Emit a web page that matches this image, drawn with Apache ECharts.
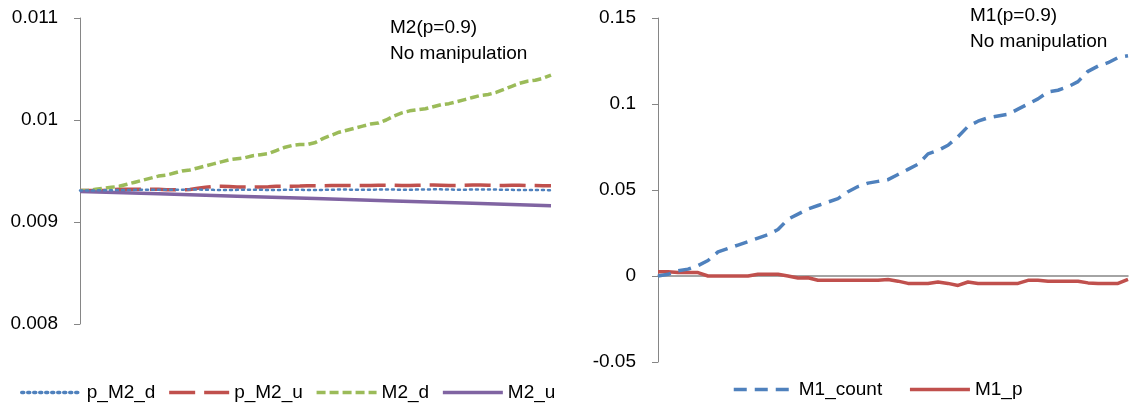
<!DOCTYPE html>
<html>
<head>
<meta charset="utf-8">
<script src="https://cdn.jsdelivr.net/npm/echarts@6/dist/echarts.min.js"></script>
<style>
  html, body { margin: 0; padding: 0; background: #fff; }
  #main { width: 1132px; height: 409px; }
</style>
</head>
<body>
<div id="main"></div>
<script>
// left panel: M2 (p=0.9), 61 steps
const m2Steps = Array.from({ length: 61 }, (_, i) => i)
const pM2d = [
  0.00931, 0.00931, 0.00931, 0.009312, 0.009312, 0.009314, 0.009314, 0.009315, 0.009315, 0.009316,
  0.009316, 0.009316, 0.009317, 0.009317, 0.009318, 0.009318, 0.009316, 0.009315, 0.009314, 0.009314,
  0.009315, 0.009316, 0.009317, 0.009316, 0.009314, 0.009313, 0.009315, 0.009316, 0.009316, 0.009314,
  0.009314, 0.009315, 0.009316, 0.009318, 0.009318, 0.009316, 0.009315, 0.009316, 0.009318, 0.009319,
  0.009318, 0.009316, 0.009316, 0.009318, 0.009319, 0.00932, 0.00932, 0.009318, 0.009317, 0.009317,
  0.009318, 0.009319, 0.009319, 0.009318, 0.009316, 0.009315, 0.009314, 0.009314, 0.009313, 0.009313,
  0.009312
]
const pM2u = [
  0.00931, 0.00931, 0.00931, 0.00931, 0.009318, 0.00932, 0.00932, 0.00932, 0.009322, 0.00932,
  0.00932, 0.009316, 0.009315, 0.009315, 0.009318, 0.00933, 0.00934, 0.00935, 0.00935, 0.009348,
  0.009344, 0.009342, 0.009342, 0.009343, 0.009346, 0.00935, 0.00935, 0.00935, 0.009352, 0.009355,
  0.009356, 0.009356, 0.009357, 0.009358, 0.009358, 0.009357, 0.009357, 0.009358, 0.00936, 0.00936,
  0.00936, 0.009358, 0.009358, 0.00936, 0.009362, 0.009362, 0.00936, 0.009358, 0.009358, 0.00936,
  0.009362, 0.009362, 0.00936, 0.009358, 0.009358, 0.00936, 0.00936, 0.009358, 0.009357, 0.009356,
  0.009355
]
const m2d = [
  0.00931, 0.00931, 0.00932, 0.00933, 0.00934, 0.00935, 0.00937, 0.00939, 0.00941, 0.00943,
  0.00945, 0.00946, 0.00948, 0.0095, 0.00951, 0.00953, 0.00955, 0.00957, 0.00959, 0.00961,
  0.00962, 0.00963, 0.00965, 0.00966, 0.00967, 0.0097, 0.00973, 0.00975, 0.00976, 0.00976,
  0.00978, 0.00982, 0.00985, 0.00988, 0.0099, 0.00992, 0.00994, 0.00996, 0.00997, 0.01,
  0.01004, 0.01007, 0.01009, 0.0101, 0.01011, 0.01013, 0.01015, 0.01016, 0.01018, 0.0102,
  0.01022, 0.01024, 0.01025, 0.01027, 0.0103, 0.01033, 0.01036, 0.01038, 0.01039, 0.01041,
  0.01044
]
// straight line, read at every 10th step
const m2u = [
  0.0093, null, null, null, null, null, null, null, null, null,
  0.009277, null, null, null, null, null, null, null, null, null,
  0.009253, null, null, null, null, null, null, null, null, null,
  0.00923, null, null, null, null, null, null, null, null, null,
  0.009207, null, null, null, null, null, null, null, null, null,
  0.009183, null, null, null, null, null, null, null, null, null,
  0.00916
]
const m2Ticks = [0.008, 0.011, 0.001]

// right panel: M1 (p=0.9), 48 steps
const m1Steps = Array.from({ length: 48 }, (_, i) => i)
const m1Count = [
  0, 0.001, 0.003, 0.004, 0.006, 0.009, 0.014, 0.016, 0.018, 0.02,
  0.022, 0.024, 0.027, 0.033, 0.036, 0.039, 0.041, 0.043, 0.045, 0.049,
  0.052, 0.054, 0.055, 0.056, 0.059, 0.062, 0.065, 0.071, 0.073, 0.076,
  0.081, 0.087, 0.09, 0.092, 0.093, 0.094, 0.097, 0.1, 0.103, 0.107,
  0.108, 0.11, 0.113, 0.119, 0.122, 0.124, 0.127, 0.128
]
const m1P = [
  0.0025, 0.0025, 0.002, 0.002, 0.002, 0, 0, 0, 0, 0,
  0.001, 0.001, 0.001, 0, -0.0012, -0.001, -0.0025, -0.0025, -0.0025, -0.0025,
  -0.0025, -0.0025, -0.0025, -0.002, -0.003, -0.0043, -0.0043, -0.0043, -0.0035, -0.0043,
  -0.0055, -0.0035, -0.0043, -0.0043, -0.0043, -0.0043, -0.0043, -0.0025, -0.0025, -0.003,
  -0.003, -0.003, -0.003, -0.004, -0.0043, -0.0043, -0.0043, -0.002
]
const m1Ticks = [-0.05, 0.15, 0.05]

const FONT = 'Liberation Sans'
const AXIS_GREY = '#868686'

const yAxisBase = (gridIndex, ticks) => ({
  type: 'value',
  gridIndex: gridIndex,
  min: ticks[0],
  max: ticks[1],
  interval: ticks[2],
  splitLine: { show: false },
  axisLine: { show: true, lineStyle: { color: AXIS_GREY, width: 1 } },
  axisTick: { show: true, length: 6, lineStyle: { color: AXIS_GREY } },
  axisLabel: { color: '#000', fontSize: 19, fontFamily: FONT, margin: 22 }
})

const legendBase = {
  itemWidth: 60, itemHeight: 12,
  itemStyle: { opacity: 0 },
  lineStyle: { width: 3.5 },
  textStyle: { fontSize: 19, fontFamily: FONT, color: '#000' }
}

const chart = echarts.init(document.getElementById('main'))
const option = {
  animation: false,
  backgroundColor: '#fff',
  grid: [
    { left: 80, top: 18, width: 471, height: 306 },
    { left: 658, top: 18, width: 470, height: 344 }
  ],
  xAxis: [
    {
      type: 'category', gridIndex: 0, data: m2Steps, boundaryGap: false,
      axisLine: { show: false }, axisTick: { show: false }, axisLabel: { show: false }
    },
    {
      type: 'category', gridIndex: 1, data: m1Steps, boundaryGap: false,
      axisLine: { show: true, onZero: true, lineStyle: { color: AXIS_GREY, width: 1.5 } },
      axisTick: { show: false }, axisLabel: { show: false }
    }
  ],
  yAxis: [yAxisBase(0, m2Ticks), yAxisBase(1, m1Ticks)],
  legend: [
    Object.assign({}, legendBase, {
      left: 15, top: 378, itemGap: 12,
      data: ['p_M2_d', 'p_M2_u', 'M2_d', 'M2_u']
    }),
    Object.assign({}, legendBase, {
      left: 727, top: 375, itemGap: 26,
      data: ['M1_count', 'M1_p']
    })
  ],
  graphic: [
    {
      type: 'text', left: 390, top: 15,
      style: { text: 'M2(p=0.9)\nNo manipulation', font: '19px "Liberation Sans"', fill: '#000', lineHeight: 26 }
    },
    {
      type: 'text', left: 970, top: 3,
      style: { text: 'M1(p=0.9)\nNo manipulation', font: '19px "Liberation Sans"', fill: '#000', lineHeight: 26 }
    }
  ],
  series: [
    {
      name: 'p_M2_d', type: 'line', xAxisIndex: 0, yAxisIndex: 0, data: pM2d,
      symbol: 'none', z: 3,
      lineStyle: { color: '#4F81BD', width: 2.5, type: [2, 4], cap: 'round' },
      itemStyle: { color: '#4F81BD' }
    },
    {
      name: 'p_M2_u', type: 'line', xAxisIndex: 0, yAxisIndex: 0, data: pM2u,
      symbol: 'none', z: 2,
      lineStyle: { color: '#C0504D', width: 3.5, type: [26, 9] },
      itemStyle: { color: '#C0504D' }
    },
    {
      name: 'M2_d', type: 'line', xAxisIndex: 0, yAxisIndex: 0, data: m2d,
      symbol: 'none', z: 2,
      lineStyle: { color: '#9BBB59', width: 3.5, type: [9, 4] },
      itemStyle: { color: '#9BBB59' }
    },
    {
      name: 'M2_u', type: 'line', xAxisIndex: 0, yAxisIndex: 0, data: m2u,
      symbol: 'none', connectNulls: true, z: 2,
      lineStyle: { color: '#8064A2', width: 3.5 },
      itemStyle: { color: '#8064A2' }
    },
    {
      name: 'M1_count', type: 'line', xAxisIndex: 1, yAxisIndex: 1, data: m1Count,
      symbol: 'none', z: 3,
      lineStyle: { color: '#4F81BD', width: 3.5, type: [13, 8] },
      itemStyle: { color: '#4F81BD' }
    },
    {
      name: 'M1_p', type: 'line', xAxisIndex: 1, yAxisIndex: 1, data: m1P,
      symbol: 'none', z: 2,
      lineStyle: { color: '#C0504D', width: 3.5 },
      itemStyle: { color: '#C0504D' }
    }
  ]
}
chart.setOption(option)
</script>
</body>
</html>
